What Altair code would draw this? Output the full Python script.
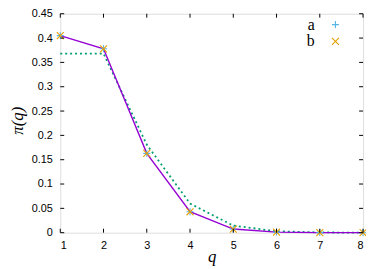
import altair as alt
import pandas as pd

# ---- data ----
q = [1, 2, 3, 4, 5, 6, 7, 8]
a_vals = [0.405, 0.378, 0.163, 0.043, 0.0075, 0.0012, 0.0002, 0.00002]
b_vals = [0.405, 0.378, 0.163, 0.043, 0.0075, 0.0012, 0.0002, 0.00002]
fit_vals = [0.368, 0.368, 0.181, 0.060, 0.0145, 0.0030, 0.0005, 0.0001]
x_ticks = [1, 2, 3, 4, 5, 6, 7, 8]
y_ticks = [0, 0.05, 0.1, 0.15, 0.2, 0.25, 0.3, 0.35, 0.4, 0.45]
legend_labels = ["a", "b"]

W, H = 307, 222
TK = 4
SERIF = "Liberation Serif"

df = pd.DataFrame({"q": q, "a": a_vals, "b": b_vals, "fit": fit_vals})
xt = pd.DataFrame({"q": x_ticks})
yt = pd.DataFrame({"v": y_ticks})

xs = alt.Scale(domain=[1, 8], nice=False, zero=False)
ys = alt.Scale(domain=[0, 0.45], nice=False)

xaxis = alt.Axis(values=x_ticks, ticks=False, domain=False, grid=False, labelOverlap=False,
                 labelFont="Liberation Sans", labelFontSize=11, labelColor="black",
                 labelPadding=7, title="q", titleFont=SERIF,
                 titleFontStyle="italic", titleFontWeight="normal", titleFontSize=17,
                 titleColor="black", titleY=29, titleBaseline="alphabetic")
yaxis = alt.Axis(values=y_ticks, ticks=False, domain=False, grid=False, format=".2~f",
                 labelOverlap=False, tickCount=10,
                 labelFont="Liberation Sans", labelFontSize=11, labelColor="black",
                 labelPadding=8, title="π(q)", titleFont=SERIF,
                 titleFontStyle="italic", titleFontWeight="normal", titleFontSize=17,
                 titleColor="black", titleAngle=-90, titleX=-43, titleY=H / 2 - 3,
                 titleAlign="center", titleBaseline="middle")


def X(field):
    return alt.X(field, type="quantitative", scale=xs, axis=xaxis)


def Y(field):
    return alt.Y(field, type="quantitative", scale=ys, axis=yaxis)


base = alt.Chart(df)

fit_line = base.mark_line(color="#009e73", strokeWidth=1.8, strokeDash=[2, 3]).encode(
    x=X("q"), y=Y("fit"))
a_line = base.mark_line(color="#9400d3", strokeWidth=1.4).encode(x=X("q"), y=Y("a"))

PLUS = "M-1,0L1,0M0,-1L0,1"
CROSS = "M-1,-1L1,1M-1,1L1,-1"
A_COL, B_COL = "#56b4e9", "#e69f00"
pt_style = dict(filled=False, size=50, strokeWidth=1.1, opacity=1, strokeOpacity=1)
a_pts = base.mark_point(shape=PLUS, color=A_COL, stroke=A_COL, **pt_style).encode(
    x=X("q"), y=Y("a"))
b_pts = base.mark_point(shape=CROSS, color=B_COL, stroke=B_COL, **pt_style).encode(
    x=X("q"), y=Y("b"))

# inward mirrored ticks
tick_style = dict(color="black", strokeWidth=1)
bt = alt.Chart(xt).mark_rule(**tick_style).encode(
    x=X("q"), y=alt.value(H), y2=alt.value(H - TK))
tt = alt.Chart(xt).mark_rule(**tick_style).encode(
    x=X("q"), y=alt.value(0), y2=alt.value(TK))
lt = alt.Chart(yt).mark_rule(**tick_style).encode(
    y=Y("v"), x=alt.value(0), x2=alt.value(TK))
rt = alt.Chart(yt).mark_rule(**tick_style).encode(
    y=Y("v"), x=alt.value(W), x2=alt.value(W - TK))

# key (top right, gnuplot style: label then sample)
leg_a = pd.DataFrame({"label": [legend_labels[0]]})
leg_b = pd.DataFrame({"label": [legend_labels[1]]})
txt_style = dict(align="right", baseline="middle", font=SERIF, fontSize=16, color="black")
leg_text_a = alt.Chart(leg_a).mark_text(**txt_style).encode(
    text="label:N", x=alt.value(258), y=alt.value(11))
leg_text_b = alt.Chart(leg_b).mark_text(**txt_style).encode(
    text="label:N", x=alt.value(258), y=alt.value(28))
leg_pt_a = alt.Chart(leg_a).mark_point(shape=PLUS, color=A_COL, stroke=A_COL, **pt_style).encode(
    x=alt.value(279), y=alt.value(11))
leg_pt_b = alt.Chart(leg_b).mark_point(shape=CROSS, color=B_COL, stroke=B_COL, **pt_style).encode(
    x=alt.value(279), y=alt.value(28))

chart = alt.layer(
    fit_line, a_line, a_pts, b_pts, bt, tt, lt, rt,
    leg_text_a, leg_text_b, leg_pt_a, leg_pt_b
).properties(
    width=W, height=H,
    autosize=alt.AutoSizeParams(type="none"),
    padding={"left": 53, "top": 4, "right": 3, "bottom": 35},
).configure_view(stroke="black", strokeWidth=1).configure(background="white")

chart.save("out.html", embed_options={"renderer": "svg", "actions": False})
